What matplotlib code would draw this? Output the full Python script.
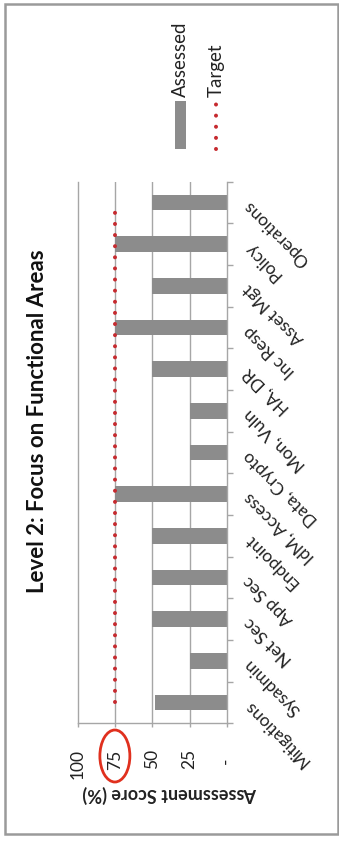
import matplotlib
matplotlib.use("Agg")
import matplotlib.pyplot as plt
from matplotlib.patches import Rectangle, Ellipse
from matplotlib.lines import Line2D

# Functional areas (bottom to top) and their scores in percent
categories = ["Mitigations", "Sysadmin", "Net Sec", "App Sec", "Endpoint",
              "IdM, Access", "Data, Crypto", "Mon, Vuln", "HA, DR",
              "Inc Resp", "Asset Mgt", "Policy", "Operations"]
assessed = [48, 25, 50, 50, 50, 75, 25, 25, 50, 75, 50, 75, 50]
target = [75, 75, 75, 75, 75, 75, 75, 75, 75, 75, 75, 75, 75]
score_ticks = [100, 75, 50, 25, 0]
score_labels = ["100", "75", "50", "25", "-  "]
highlight_score = 75
title = "Level 2: Focus on Functional Areas"
axis_label = "Assessment Score (%)"
legend_labels = ["Assessed", "Target"]

plt.rcParams['font.family'] = ['Lato', 'DejaVu Sans']

W, H = 339, 845
fig = plt.figure(figsize=(W / 100, H / 100), dpi=100)
fig.patch.set_facecolor("white")


def fx(x):
    return x / W


def fy(y):
    return 1 - y / H


BAR = "#8c8c8c"
GRID = "#a6a6a6"
RED = "#c62a2f"
DOTS = (0, (0.01, 2.75))

ax_l, ax_r, ax_t, ax_b = 77.5, 227.0, 182.7, 724.3
ax = fig.add_axes([fx(ax_l), fy(ax_b), (ax_r - ax_l) / W, (ax_b - ax_t) / H])

ypos = list(range(len(categories)))
ax.barh(ypos, assessed, height=0.37, color=BAR, zorder=2)
# target series runs along the category axis
ax.plot(target, ypos, color=RED, lw=2.9, linestyle=DOTS,
        dash_capstyle="round", zorder=3)

ax.set_xlim(100, 0)
ax.set_ylim(-0.5, len(categories) - 0.5)

# value gridlines
for v in score_ticks[1:-1]:
    ax.axvline(v, color=GRID, lw=1.0, zorder=1)

ax.spines["top"].set_visible(False)
for s in ["left", "right", "bottom"]:
    ax.spines[s].set_color(GRID)
    ax.spines[s].set_linewidth(1.0)

# value axis along the bottom
ax.set_xticks(score_ticks)
ax.set_xticklabels(score_labels)
ax.tick_params(axis="x", direction="out", length=3, width=1.0, color=GRID,
               pad=15, labelsize=12.5, labelcolor="#222222")
for lab in ax.get_xticklabels():
    lab.set_rotation(90)
    lab.set_ha("center")
    lab.set_va("top")

# category axis on the right
ax.yaxis.tick_right()
ax.set_yticks(ypos)
ax.set_yticks([p - 0.5 for p in ypos] + [len(categories) - 0.5], minor=True)
ax.set_yticklabels(categories)
ax.tick_params(axis="y", which="major", length=0, pad=14, labelsize=12.5,
               labelcolor="#222222")
ax.tick_params(axis="y", which="minor", direction="out", length=4, width=1.0,
               color=GRID)
for lab in ax.get_yticklabels():
    lab.set_rotation(135)
    lab.set_rotation_mode("anchor")
    lab.set_ha("right")
    lab.set_va("center")

# axis title beneath the value labels
fig.text(fx(170), fy(794), axis_label, rotation=180, ha="center", va="center",
         fontsize=13, fontweight="bold", color="#222222")

# chart title
fig.text(fx(37.5), fy(421), title, rotation=90, ha="center", va="center",
         fontsize=16, fontweight="bold", color="#111111")

# ring around the target score label
hx = ax.transData.transform((highlight_score, 0))[0]
fig.add_artist(Ellipse((hx / W, fy(757)), 30 / W, 52 / H, fill=False,
                       edgecolor="#e0301e", lw=2.0))

# legend
fig.add_artist(Rectangle((fx(175), fy(150)), 10.5 / W, 48 / H,
                         facecolor=BAR, edgecolor="none"))
fig.add_artist(Line2D([fx(216), fx(216)], [fy(150), fy(104)], color=RED,
                      lw=2.9, linestyle=DOTS, dash_capstyle="round"))
fig.text(fx(180), fy(97), legend_labels[0], rotation=90, rotation_mode="anchor",
         ha="left", va="center", fontsize=13.5, color="#222222")
fig.text(fx(216), fy(97), legend_labels[1], rotation=90, rotation_mode="anchor",
         ha="left", va="center", fontsize=13.5, color="#222222")

# outer frame
fig.add_artist(Rectangle((fx(4.5), fy(834.5)), 333 / W, 830 / H,
                         fill=False, edgecolor="#9a9a9a", lw=1.8))

fig.savefig("out.png", dpi=100, facecolor="white")
